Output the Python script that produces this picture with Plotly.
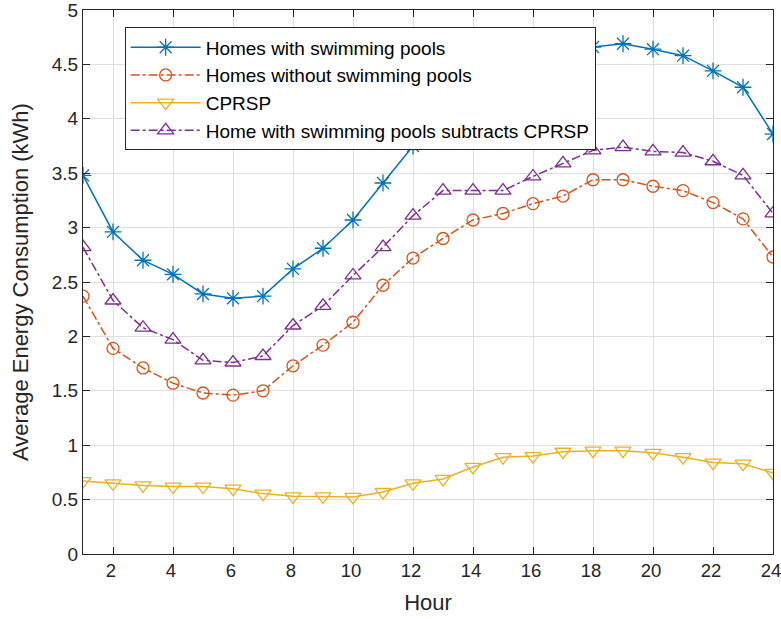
import plotly.graph_objects as go

hours = list(range(1, 25))
with_pools = [3.48, 2.96, 2.70, 2.57, 2.39, 2.35, 2.37, 2.62, 2.81, 3.07, 3.41, 3.75,
              4.03, 4.14, 4.23, 4.37, 4.53, 4.66, 4.69, 4.64, 4.58, 4.44, 4.29, 3.86]
without_pools = [2.37, 1.89, 1.71, 1.57, 1.48, 1.46, 1.50, 1.73, 1.92, 2.13, 2.47, 2.72,
                 2.90, 3.07, 3.13, 3.22, 3.29, 3.44, 3.44, 3.38, 3.34, 3.23, 3.08, 2.73]
cprsp = [0.67, 0.65, 0.63, 0.62, 0.62, 0.60, 0.555, 0.53, 0.53, 0.525, 0.57, 0.65,
         0.69, 0.80, 0.89, 0.90, 0.94, 0.95, 0.95, 0.93, 0.89, 0.84, 0.83, 0.745]
subtract = [2.82, 2.33, 2.08, 1.97, 1.78, 1.76, 1.82, 2.10, 2.28, 2.56, 2.82, 3.11,
            3.34, 3.34, 3.34, 3.47, 3.59, 3.71, 3.74, 3.70, 3.69, 3.61, 3.48, 3.13]

x_ticks = list(range(2, 25, 2))
y_ticks = [0, 0.5, 1, 1.5, 2, 2.5, 3, 3.5, 4, 4.5, 5]
y_tick_text = ["0", "0.5", "1", "1.5", "2", "2.5", "3", "3.5", "4", "4.5", "5"]

series = [
    ("Homes with swimming pools", with_pools, "#0072BD", "solid", "asterisk-open", 14),
    ("Homes without swimming pools", without_pools, "#D95319", "dashdot", "circle-open", 12),
    ("CPRSP", cprsp, "#EDB120", "solid", "triangle-down-open", 14),
    ("Home with swimming pools subtracts CPRSP", subtract, "#7E2F8E", "dashdot", "triangle-up-open", 14),
]

FONT = "Liberation Sans, Arial, sans-serif"

fig = go.Figure()
for name, vals, color, dash, sym, size in series:
    fig.add_trace(go.Scatter(
        x=hours, y=vals, name=name, mode="lines+markers",
        line=dict(color=color, width=1.5, dash=dash),
        marker=dict(symbol=sym, size=size, color=color, line=dict(color=color, width=1.3)),
    ))

axis_common = dict(
    showline=True, linecolor="#262626", linewidth=1.2, mirror="ticks",
    ticks="inside", ticklen=7, tickcolor="#262626", tickwidth=1.2,
    showgrid=True, gridcolor="#dfdfdf", gridwidth=1, zeroline=False,
    automargin=False, ticklabeloverflow="allow",
)

fig.update_layout(
    width=781, height=619,
    margin=dict(l=83, r=8, t=10, b=65),
    paper_bgcolor="white", plot_bgcolor="white",
    font=dict(family=FONT, color="#262626"),
    xaxis=dict(range=[1, 24], tickvals=x_ticks, ticklabelshift=-2,
               tickfont=dict(family=FONT, size=18.5, color="#262626"),
               title=dict(text="Hour", font=dict(size=22, color="#262626"), standoff=14),
               **axis_common),
    yaxis=dict(range=[0, 5], tickvals=y_ticks, ticktext=y_tick_text,
               tickfont=dict(family=FONT, size=19, color="#262626"),
               title=dict(text="Average Energy Consumption (kWh)", font=dict(size=22, color="#262626"), standoff=16),
               **axis_common),
    legend=dict(x=0.0604, y=0.968, xanchor="left", yanchor="top",
                bgcolor="white", bordercolor="#262626", borderwidth=1,
                itemwidth=70,
                font=dict(size=19, family=FONT, color="#000000"), tracegroupgap=0),
    showlegend=True,
)

fig.write_html("out.html", config={"displayModeBar": False},
               post_script="document.body.style.margin='0';")
